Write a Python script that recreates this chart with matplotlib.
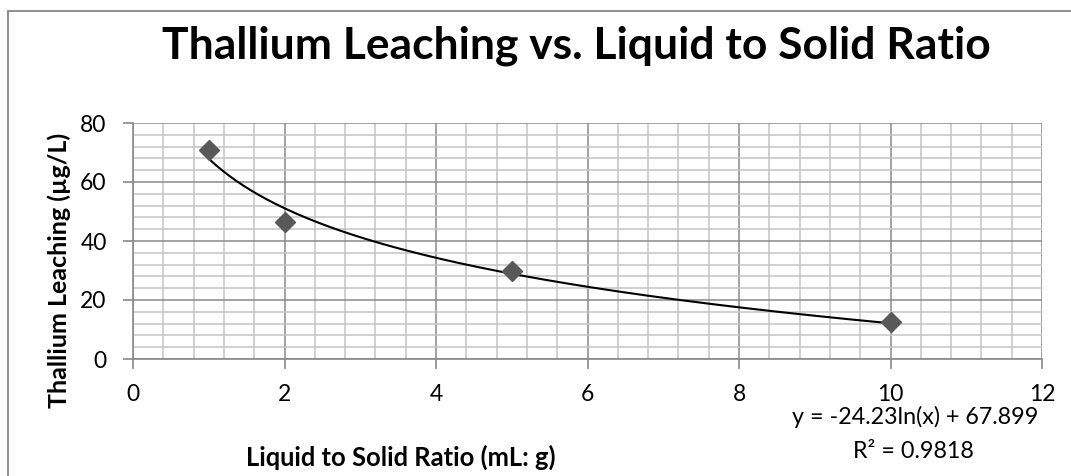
import numpy as np
import matplotlib.pyplot as plt
from matplotlib.ticker import MultipleLocator
from matplotlib.patches import Rectangle

plt.rcParams['font.family'] = ['Lato', 'DejaVu Sans']

# data
ratio = [1, 2, 5, 10]
thallium = [71, 46.5, 30, 12.5]
fit_a = -24.23
fit_b = 67.899
x_ticks = [0, 2, 4, 6, 8, 10, 12]
y_ticks = [0, 20, 40, 60, 80]

W, H = 1071, 476
fig = plt.figure(figsize=(W / 100, H / 100), dpi=100)


def px(x, y):
    # pixel position (from top-left) -> figure fraction
    return x / W, 1 - y / H


# chart border (right and bottom edges lie outside the picture)
fig.patches.append(Rectangle(px(8, 500), 1.2, (500 - 11) / H, transform=fig.transFigure,
                             fill=False, edgecolor='#868686', linewidth=1.3))

ax = fig.add_axes([133 / W, 1 - 359 / H, (1042 - 133) / W, (359 - 123) / H])

# trendline
xs = np.linspace(ratio[0], ratio[-1], 200)
ax.plot(xs, fit_a * np.log(xs) + fit_b, color='black', linewidth=1.5, zorder=3)
ax.plot(ratio, thallium, linestyle='none', marker='D', ms=10.5,
        color='#595959', mec='#595959', zorder=4, clip_on=False)

ax.set_xlim(0, 12)
ax.set_ylim(0, 80)
ax.set_xticks(x_ticks)
ax.set_yticks(y_ticks)
ax.xaxis.set_minor_locator(MultipleLocator(0.4))
ax.yaxis.set_minor_locator(MultipleLocator(4))
ax.grid(which='minor', color='#c4c4c4', linewidth=1.1)
ax.grid(which='major', color='#898989', linewidth=1.1)
ax.set_axisbelow(True)
for s in ['top', 'right']:
    ax.spines[s].set_visible(False)
for s in ['left', 'bottom']:
    ax.spines[s].set_color('#898989')
    ax.spines[s].set_linewidth(1.2)
ax.tick_params(which='major', length=7, color='#898989', width=1.2, labelsize=16.5)
ax.tick_params(which='minor', length=0)
ax.tick_params(axis='x', pad=11)
ax.tick_params(axis='y', pad=12)

renderer = fig.canvas.get_renderer()


def fit_text(t, target, vertical=False):
    # scale font so the text spans the measured pixel length
    for _ in range(3):
        bb = t.get_window_extent(renderer)
        size = bb.height if vertical else bb.width
        t.set_fontsize(t.get_fontsize() * target / size)


title = fig.text(*px(576, 46), 'Thallium Leaching vs. Liquid to Solid Ratio',
                 ha='center', va='center', fontsize=30, fontweight='bold')
fit_text(title, 827)
xlab = fig.text(*px(401, 457), 'Liquid to Solid Ratio (mL: g)',
                ha='center', va='center', fontsize=16, fontweight='bold')
fit_text(xlab, 308)
ylab = fig.text(*px(59, 270), 'Thallium Leaching (µg/L)', ha='center', va='center',
                rotation=90, fontsize=16, fontweight='bold')
fit_text(ylab, 275, vertical=True)
eq = fig.text(*px(915, 417), 'y = -24.23ln(x) + 67.899', ha='center', va='center', fontsize=16)
fit_text(eq, 246)
r2 = fig.text(*px(913, 452), 'R² = 0.9818', ha='center', va='center', fontsize=eq.get_fontsize())

fig.savefig('out.png', dpi=100)
